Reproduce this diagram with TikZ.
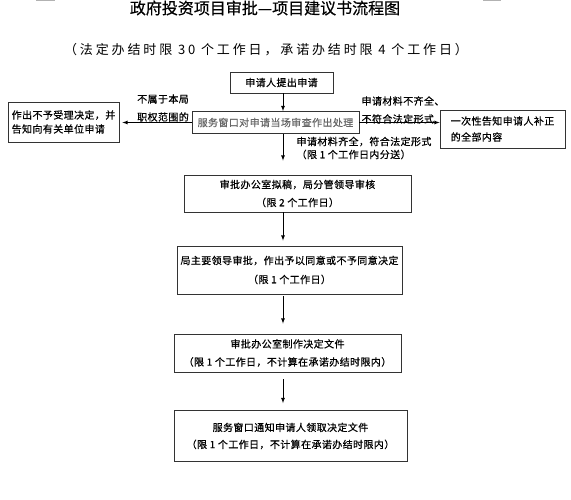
\documentclass[tikz,border=0pt]{standalone}
\usepackage{fontspec}
\setmainfont{Noto Sans CJK SC}
\newfontfamily\titlefont[FakeBold=0.5]{Noto Sans CJK SC}
\newfontfamily\widefont[LetterSpace=22]{Noto Sans CJK SC}
\newfontfamily\boxfont[LetterSpace=4,FakeBold=0.6]{Noto Sans CJK SC}
\usepackage{tikz}
\usetikzlibrary{arrows}
\tikzset{every picture/.style={x=1pt,y=-1pt,every node/.style={inner sep=0pt,font=\boxfont\fontsize{10}{18}\selectfont}}}
\tikzset{box/.style={draw=black!80,line width=0.8pt,align=center}}

\begin{document}
\begin{tikzpicture}[>=latex]
    \useasboundingbox (0,0) rectangle (571,500);
    \draw[black!30, line width=1.5pt](36,0.5)--(55,0.5);
    \draw[black!30, line width=1.5pt](483,0.5)--(501,0.5);
    \coordinate (axis) at (283,0);

    \node[font=\titlefont\fontsize{16}{16}\selectfont](title) at (265,8){政府投资项目审批—项目建议书流程图};
    \node[font=\widefont\fontsize{13}{14}\selectfont](sub) at (266,50){（法定办结时限 30 个工作日，承诺办结时限 4 个工作日）};

    \node[box, minimum width=103pt, minimum height=21pt](b1) at (281.5,82.5){申请人提出申请};
    \node[box, text=black!60, minimum width=167pt, minimum height=22pt](b2) at (275.5,122.5){服务窗口对申请当场审查作出处理};
    \node[box, align=left, minimum width=111pt, minimum height=40pt, font=\boxfont\fontsize{10}{14}\selectfont](lbox) at (63.5,122){作出不予受理决定，并\\告知向有关单位申请};
    \node[box, align=left, minimum width=125pt, minimum height=38pt, font=\boxfont\fontsize{10}{16}\selectfont](rbox) at (502.5,129){一次性告知申请人补正\\的全部内容};
    \node[box, minimum width=227pt, minimum height=37pt](b3) at (297.5,193.5){审批办公室拟稿，局分管领导审核\\（限 2 个工作日）};
    \node[box, minimum width=225pt, minimum height=48pt, font=\boxfont\fontsize{10}{19}\selectfont](b4) at (289.5,270){局主要领导审批，作出予以同意或不予同意决定\\（限 1 个工作日）};
    \node[box, minimum width=227pt, minimum height=38pt](b5) at (287.5,353){审批办公室制作决定文件\\（限 1 个工作日，不计算在承诺办结时限内）};
    \node[box, minimum width=233pt, minimum height=51pt, font=\boxfont\fontsize{10}{17}\selectfont](b6) at (290.5,436){服务窗口通知申请人领取决定文件\\（限 1 个工作日，不计算在承诺办结时限内）};

    \node[align=center](lno) at (163,108){不属于本局\\职权范围的};
    \node[align=left](lbad) at (403,110){申请材料不齐全、\\不符合法定形式};
    \node[align=left, font=\boxfont\fontsize{10}{13}\selectfont](lok) at (364,148){申请材料齐全，符合法定形式\\（限 1 个工作日内分送）};

    \draw[->, line width=0.8pt](b1.south -| axis)--(b2.north -| axis);
    \draw[->, line width=0.8pt, shorten >=3pt](b2.west)--(b2.west -| lbox.east);
    \draw[->, line width=0.8pt](b2.east)--(b2.east -| rbox.west);
    \draw[->, line width=0.8pt, shorten >=14pt](b2.south -| axis)--(b3.north -| axis);
    \draw[->, line width=0.8pt, shorten >=5pt](b3.south -| axis)--(b4.north -| axis);
    \draw[->, line width=0.8pt, shorten <=2pt, shorten >=10pt](b4.south -| axis)--(b5.north -| axis);
    \draw[->, line width=0.8pt, shorten <=7pt, shorten >=7pt](b5.south -| axis)--(b6.north -| axis);
  \end{tikzpicture}
\end{document}
